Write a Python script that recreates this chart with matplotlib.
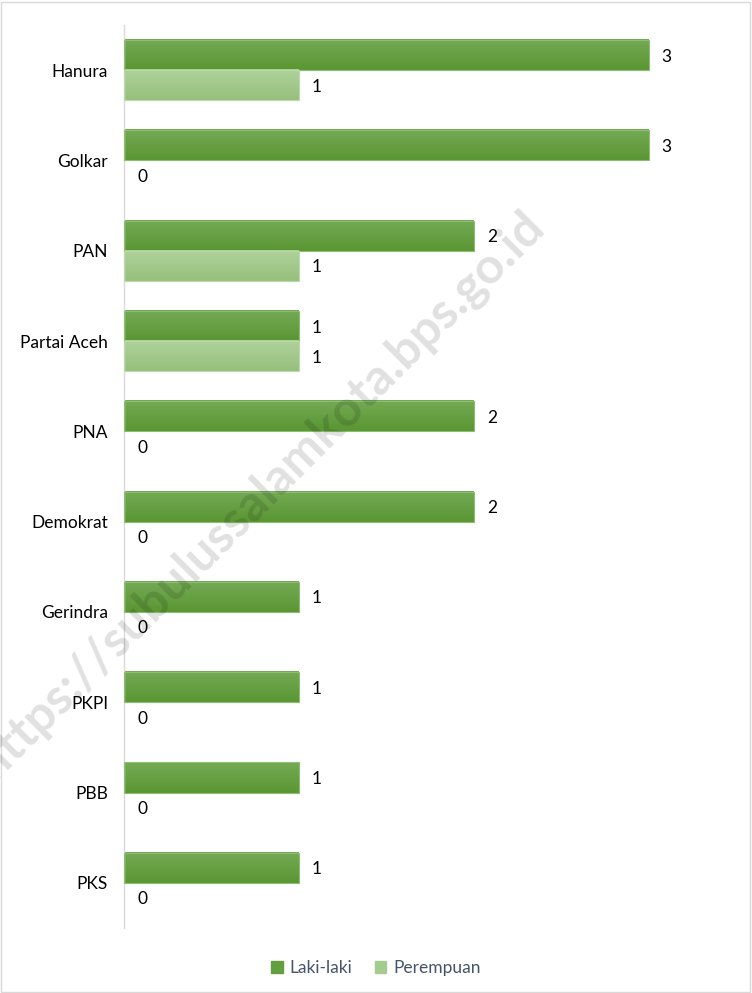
import matplotlib
matplotlib.use("Agg")
import matplotlib.pyplot as plt
import numpy as np
from matplotlib.patches import Rectangle, Patch
from matplotlib.colors import LinearSegmentedColormap

parties = ["Hanura", "Golkar", "PAN", "Partai Aceh", "PNA", "Demokrat",
           "Gerindra", "PKPI", "PBB", "PKS"]
laki = [3, 3, 2, 1, 2, 2, 1, 1, 1, 1]
perempuan = [1, 0, 1, 1, 0, 0, 0, 0, 0, 0]
series_names = ["Laki-laki", "Perempuan"]

plt.rcParams['font.family'] = ['Lato', 'DejaVu Sans']

fig = plt.figure(figsize=(7.52, 9.93), dpi=100)
ax = fig.add_axes([124/752, 1-928/993, (736-124)/752, (928-25)/993])

y = np.arange(len(parties))
h = 0.333
c1 = "#62A03F"
c2 = "#A5CC8F"
cmap1 = LinearSegmentedColormap.from_list("g1", ["#74AA55", "#5A9633"])
cmap2 = LinearSegmentedColormap.from_list("g2", ["#AFD29B", "#96C07C"])
grad = np.linspace(0, 1, 64).reshape(-1, 1)

b1 = ax.barh(y - h/2, laki, height=h, color="none", edgecolor="#8DBE70", linewidth=0.8, zorder=3)
b2 = ax.barh(y + h/2, perempuan, height=h, color="none", edgecolor="#BCDAA9", linewidth=0.8, zorder=3)

for bars, cm in ((b1, cmap1), (b2, cmap2)):
    for rect in bars:
        w = rect.get_width()
        if w <= 0:
            rect.set_linewidth(0)
            continue
        y0 = rect.get_y()
        ax.imshow(grad, cmap=cm, aspect="auto", interpolation="bilinear",
                  extent=(0, w, y0 + rect.get_height(), y0), zorder=2)

for rect, v in zip(b1, laki):
    ax.text(v + 0.075, rect.get_y() + rect.get_height()/2, str(v), va="center_baseline", ha="left", fontsize=12.5, color="#000000")
for rect, v in zip(b2, perempuan):
    ax.text(v + 0.075, rect.get_y() + rect.get_height()/2, str(v), va="center_baseline", ha="left", fontsize=12.5, color="#000000")

ax.set_xlim(0, 3.5)
ax.set_ylim(len(parties) - 0.5, -0.5)
ax.set_yticks(y)
ax.set_yticklabels(parties, fontsize=12.5)
ax.tick_params(axis="y", length=0, pad=11.5)
ax.set_xticks([])
for s in ["top", "right", "bottom"]:
    ax.spines[s].set_visible(False)
ax.spines["left"].set_color("#D9D9D9")
ax.spines["left"].set_linewidth(1.0)

handles = [Patch(color=c1), Patch(color=c2)]
leg = fig.legend(handles=handles, labels=series_names, loc="center", bbox_to_anchor=(0.5, 1-968/993),
                 ncol=2, frameon=False, fontsize=12.5, handlelength=0.65, handleheight=0.65,
                 columnspacing=1.3, handletextpad=0.4)
for t in leg.get_texts():
    t.set_color("#44546A")

fig.text(260/752, 1-495/993, "https://subulussalamkota.bps.go.id", rotation=45, fontsize=36,
         color="#000000", alpha=0.12, ha="center", va="center", fontweight="bold")

fig.patches.append(Rectangle((0.001, 0.001), 0.997, 0.997, transform=fig.transFigure,
                             fill=False, edgecolor="#D9D9D9", linewidth=1))

fig.savefig("out.png", dpi=100)
